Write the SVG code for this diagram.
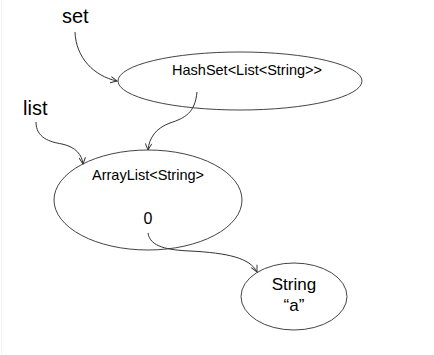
<svg xmlns="http://www.w3.org/2000/svg" width="434" height="355" viewBox="0 0 434 355">
  <style>
    .node { fill: #ffffff; stroke: #444444; stroke-width: 1; }
    .edge { fill: none; stroke: #333333; stroke-width: 1; }
    .lbl { font-family: "Liberation Sans", Arial, sans-serif; fill: #000000; text-anchor: middle; }
    .var { font-family: "Liberation Sans", Arial, sans-serif; fill: #000000; font-size: 20px; }
  </style>
  <defs>
    <marker id="head" viewBox="0 0 10 10" refX="9" refY="5" markerWidth="8" markerHeight="8" markerUnits="userSpaceOnUse" orient="auto">
      <path d="M1,1 L9,5 L1,9" fill="none" stroke="#333333" stroke-width="1.2"/>
    </marker>
  </defs>
  <rect x="0" y="0" width="434" height="355" fill="#ffffff"/>
  <line x1="1.5" y1="0" x2="1.5" y2="355" stroke="#f2f2f2" stroke-width="1"/>

  <g id="hashset">
    <ellipse class="node" cx="240" cy="81" rx="122" ry="29"/>
    <text class="lbl" x="247" y="75" font-size="14.5">HashSet&lt;List&lt;String&gt;&gt;</text>
  </g>

  <g id="arraylist">
    <ellipse class="node" cx="148" cy="200" rx="94" ry="50"/>
    <text class="lbl" x="148" y="180" font-size="14.5">ArrayList&lt;String&gt;</text>
    <text class="lbl" x="148" y="224" font-size="16">0</text>
  </g>

  <g id="string-a">
    <ellipse class="node" cx="294" cy="296.5" rx="53" ry="33.5"/>
    <text class="lbl" x="294" y="290" font-size="17">String</text>
    <text class="lbl" x="294" y="311" font-size="17">“a”</text>
  </g>

  <g id="var-set">
    <text class="var" x="62" y="23">set</text>
  </g>

  <g id="var-list">
    <text class="var" x="23" y="115">list</text>
  </g>

  <g id="connectors">
    <path class="edge" marker-end="url(#head)" d="M75,32 C76,58 94,76 117,81"/>
    <path class="edge" marker-end="url(#head)" d="M36,122 C36,138 50,142 62,144 C76,147 82,155 83,164"/>
    <path class="edge" marker-end="url(#head)" d="M197,92 C195,113 185,118 170,123 C156,128 149,138 148,150"/>
    <path class="edge" marker-end="url(#head)" d="M148,233 C150,247 168,250 190,251 C228,253 250,258 257,272"/>
  </g>
</svg>
